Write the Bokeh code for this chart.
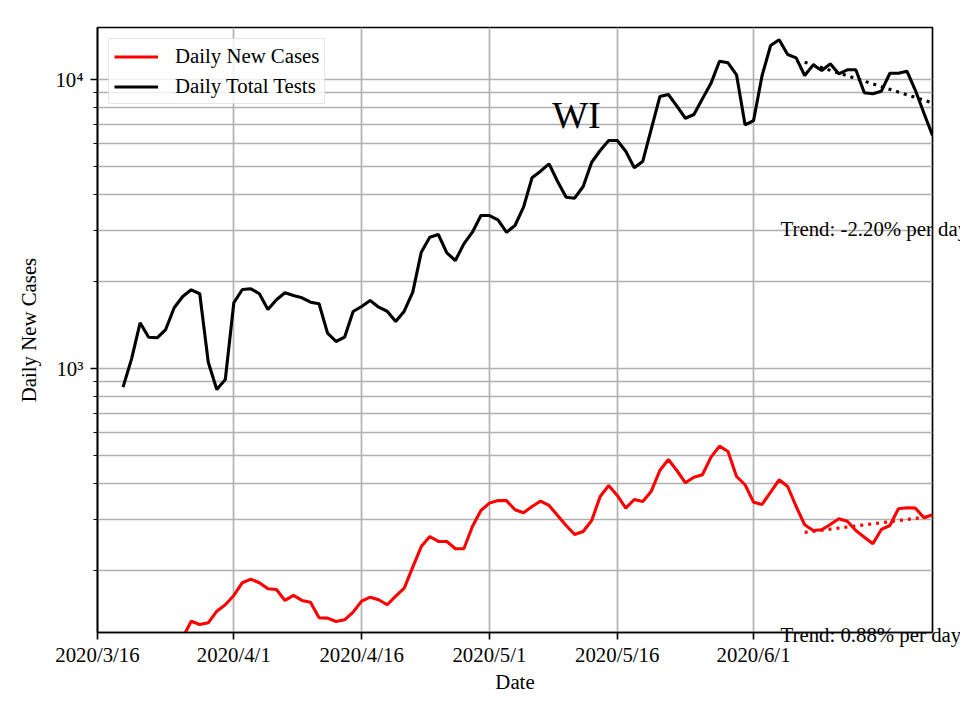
import pandas as pd
from bokeh.plotting import figure
from bokeh.models import Range1d, FixedTicker, Legend, Label
from bokeh.embed import file_html
from bokeh.resources import INLINE

FONT = "Liberation Serif"
FS = "20.8px"

# ---------------- data ----------------
start_date = "2020-03-19"
n_days = 96
dates = pd.date_range(start_date, periods=n_days, freq="D")

daily_total_tests = [
    862, 1080, 1439, 1283, 1277, 1364, 1622, 1775, 1872, 1814,
    1051, 846, 916, 1688, 1877, 1887, 1814, 1600, 1729, 1828,
    1789, 1757, 1696, 1675, 1325, 1240, 1283, 1575, 1639, 1719,
    1630, 1578, 1454, 1578, 1837, 2526, 2847, 2909, 2513, 2364,
    2700, 2963, 3383, 3383, 3269, 2963, 3125, 3615, 4570, 4818,
    5108, 4436, 3915, 3885, 4264, 5173, 5680, 6151, 6151, 5648,
    4950, 5215, 6752, 8730, 8872, 8085, 7345, 7568, 8577, 9700,
    11571, 11424, 10382, 6970, 7213, 10322, 13111, 13722, 12205, 11886,
    10322, 11240, 10740, 11330, 10464, 10804, 10804, 8995, 8925, 9111,
    10515, 10515, 10684, 9161, 7645, 6402,
]

daily_new_cases = [
    45, 55, 62, 70, 82, 95, 105, 117, 133.5, 130,
    131.8, 144.6, 152.2, 163.9, 181.4, 186.6, 181.4, 172.9, 171.9, 157.5,
    163.9, 157.5, 155.3, 137.2, 136.8, 133.2, 135, 143.5, 156.6, 161.7,
    158.4, 152.2, 163, 173.7, 205.3, 242, 262.2, 252, 252, 237.7,
    237.7, 284, 322.6, 342, 349.4, 349, 324.4, 316.7, 333, 347.4,
    335.7, 309.9, 286.2, 266.4, 272.9, 297.9, 360.6, 393.8, 363.5, 328.6,
    352.1, 346.6, 376.3, 443.6, 484.3, 443.6, 402.2, 420.6, 428.7, 493.3,
    538.4, 516.2, 422.9, 396, 344.7, 338.4, 373.3, 412, 390.5, 333,
    287.8, 275, 276.6, 288.5, 302, 296.1, 275, 260.8, 247.4, 277.3,
    286.2, 327, 329.6, 328.6, 304.3, 311.7,
]

trend_dates = pd.to_datetime(["2020-06-07", "2020-06-22"])
tests_trend = [11480, 8300]
cases_trend = [271, 308]
tests_trend_label = "Trend: -2.20% per day"
cases_trend_label = "Trend: 0.88% per day"

x_tick_dates = ["2020-03-16", "2020-04-01", "2020-04-16", "2020-05-01", "2020-05-16", "2020-06-01"]
x_tick_labels = ["2020/3/16", "2020/4/1", "2020/4/16", "2020/5/1", "2020/5/16", "2020/6/1"]
y_major = [1000, 10000]
y_major_labels = ["10\u00b3", "10\u2074"]
y_minor = [200, 300, 400, 500, 600, 700, 800, 900,
           2000, 3000, 4000, 5000, 6000, 7000, 8000, 9000]

x_start, x_end = pd.Timestamp("2020-03-16"), pd.Timestamp("2020-06-22")
y_start, y_end = 122, 15136

state_name = "WI"
title_pos = (pd.Timestamp("2020-05-11 05:00"), 7566)
tests_label_pos = (pd.Timestamp("2020-06-04 04:00"), 3051)
cases_label_pos = (pd.Timestamp("2020-06-04 04:00"), 120.1)


def ms(d):
    return float(pd.Timestamp(d).value // 10**6)


# ---------------- figure ----------------
p = figure(width=960, height=720, x_axis_type="datetime", y_axis_type="log",
           output_backend="svg", toolbar_location=None,
           x_range=Range1d(x_start, x_end), y_range=Range1d(y_start, y_end),
           min_border_left=97, min_border_right=28, min_border_top=27, min_border_bottom=88)

p.background_fill_color = "white"
p.border_fill_color = "white"
p.outline_line_color = "black"
p.outline_line_width = 1.67

r_cases = p.line(dates, daily_new_cases, line_color="#ff0000", line_width=3.1)
r_tests = p.line(dates, daily_total_tests, line_color="black", line_width=3.1)
p.line(trend_dates, tests_trend, line_color="black", line_width=3.1, line_dash="3 5")
p.line(trend_dates, cases_trend, line_color="#ff0000", line_width=3.1, line_dash="3 5")

# axes
p.xaxis.ticker = FixedTicker(ticks=[ms(d) for d in x_tick_dates])
p.xaxis.major_label_overrides = {ms(d): lab for d, lab in zip(x_tick_dates, x_tick_labels)}
p.yaxis.ticker = FixedTicker(ticks=y_major, minor_ticks=y_minor)
p.yaxis.major_label_overrides = {v: lab for v, lab in zip(y_major, y_major_labels)}

for ax in (p.xaxis[0], p.yaxis[0]):
    ax.axis_line_color = "black"
    ax.axis_line_width = 1.67
    ax.major_tick_line_color = "black"
    ax.major_tick_line_width = 1.67
    ax.major_tick_in = 0
    ax.major_tick_out = 7
    ax.minor_tick_line_color = "black"
    ax.minor_tick_line_width = 1.2
    ax.minor_tick_in = 0
    ax.minor_tick_out = 4
    ax.major_label_text_font = FONT
    ax.major_label_text_font_size = FS
    ax.major_label_text_color = "black"
    ax.axis_label_text_font = FONT
    ax.axis_label_text_font_size = FS
    ax.axis_label_text_font_style = "normal"
    ax.axis_label_text_color = "black"

p.xaxis.axis_label = "Date"
p.yaxis.axis_label = "Daily New Cases"
p.xaxis.major_label_standoff = 3
p.xaxis.axis_label_standoff = 1
p.yaxis.major_label_standoff = 7
p.yaxis.axis_label_standoff = 12

p.xgrid.grid_line_color = "#b0b0b0"
p.xgrid.grid_line_width = 1.67
p.ygrid.grid_line_color = "#b0b0b0"
p.ygrid.grid_line_width = 1.67
p.ygrid.minor_grid_line_color = "#b0b0b0"
p.ygrid.minor_grid_line_width = 1.67

# legend
legend = Legend(items=[("Daily New Cases", [r_cases]), ("Daily Total Tests", [r_tests])],
                location="top_left")
legend.margin = 11
legend.padding = 5
legend.spacing = 6
legend.glyph_width = 44
legend.glyph_height = 21
legend.label_height = 21
legend.label_standoff = 17
legend.label_text_font = FONT
legend.label_text_font_size = FS
legend.label_text_color = "black"
legend.border_line_color = "#cccccc"
legend.border_line_width = 1.3
legend.background_fill_alpha = 0.8
p.add_layout(legend)

# texts
p.add_layout(Label(x=title_pos[0], y=title_pos[1], text=state_name, text_align="center",
                   text_baseline="alphabetic", text_font=FONT, text_font_size="38px",
                   text_color="black"))
# trend texts run past the axes box, so they live in side panels (not clipped)
p.add_layout(Label(x=tests_label_pos[0], y=tests_label_pos[1], text=tests_trend_label,
                   text_baseline="alphabetic", text_font=FONT, text_font_size=FS,
                   text_color="black"), "above")
p.add_layout(Label(x=cases_label_pos[0], y=cases_label_pos[1], text=cases_trend_label,
                   text_baseline="alphabetic", text_font=FONT, text_font_size=FS,
                   text_color="black"), "below")

open("out.html", "w").write(file_html(p, INLINE))
